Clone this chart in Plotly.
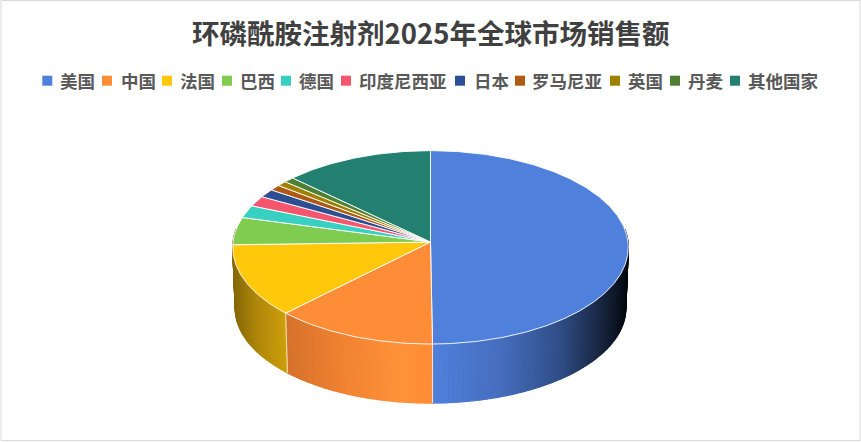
import numpy as np
import plotly.graph_objects as go

TITLE = "环磷酰胺注射剂2025年全球市场销售额"
categories = ["美国", "中国", "法国", "巴西", "德国", "印度尼西亚", "日本", "罗马尼亚", "英国", "丹麦", "其他国家"]
share = [49.85, 12.6, 12.1, 4.6, 2.1, 1.75, 1.4, 0.95, 0.85, 0.9, 12.9]
colors = ["#4F80DC", "#FF8C37", "#FFC80A", "#80CC50", "#38D0C0", "#F4566E",
          "#2C4F94", "#AF5A14", "#A08000", "#4F7F32", "#238070"]

# legend layout (pixels)
legend_marker_x = [47.3, 107, 167, 227, 286, 346, 460, 520, 615, 675, 735]
legend_label_x = [60.3, 120.7, 180, 240, 299.3, 359.3, 474.3, 532.3, 628.3, 687.7, 748.3]

# projection of the pie disc
CX, CY, R, S, K = 430.5, 242.0, 197.5, 96.4, 0.0553
R2, S2, CYB = 195.0, 94.5, 303.0

# wall shading by horizontal position (pixel x, rgb)
wall_stops = {
    0: [(432, (80, 128, 220)), (500, (70, 110, 190)), (560, (48, 78, 135)), (605, (22, 34, 58)), (627, (5, 10, 18))],
    1: [(286, (214, 114, 44)), (340, (240, 130, 50)), (400, (255, 146, 56)), (433, (255, 140, 55))],
    2: [(233, (135, 105, 8)), (255, (175, 135, 10)), (287, (208, 160, 12))],
}


def top(t):
    w = 1 + K * np.cos(t)
    return CX + R * np.sin(t) / w, CY - S * np.cos(t) / w


def bot(t):
    w = 1 + K * np.cos(t)
    return CX + R2 * np.sin(t) / w, CYB - S2 * np.cos(t) / w


def shade(i, x):
    st = wall_stops[i]
    xs = [p[0] for p in st]
    r, g, b = [np.interp(x, xs, [p[1][j] for p in st]) for j in range(3)]
    return f"rgb({r:.0f},{g:.0f},{b:.0f})"


fractions = np.array(share) / np.sum(share)
edges = np.concatenate([[0], np.cumsum(fractions)]) * 2 * np.pi

fig = go.Figure()

# side wall (only the three front slices are visible)
lo, hi = np.radians(82), np.radians(278)
for i in sorted(wall_stops):
    a = max(edges[i], lo)
    b = hi if i == 2 else edges[i + 1]
    n = max(2, int((b - a) / np.radians(0.7)))
    ts = np.linspace(a, b, n + 1)
    for t1, t2 in zip(ts[:-1], ts[1:]):
        x1, y1 = top(t1)
        x2, y2 = top(t2)
        x3, y3 = bot(t2)
        x4, y4 = bot(t1)
        col = shade(i, (x1 + x2) / 2)
        fig.add_trace(go.Scatter(x=[x1, x2, x3, x4, x1], y=[y1, y2, y3, y4, y1], mode="lines",
                                 fill="toself", fillcolor=col, line=dict(color=col, width=1.2),
                                 hoverinfo="skip", showlegend=False))
    # slice boundary on the wall
    if i > 0:
        x1, y1 = top(edges[i])
        x2, y2 = bot(edges[i])
        fig.add_trace(go.Scatter(x=[x1, x2], y=[y1, y2], mode="lines",
                                 line=dict(color="rgba(255,255,255,0.75)", width=1),
                                 hoverinfo="skip", showlegend=False))

# top face
for i, cat in enumerate(categories):
    ts = np.linspace(edges[i], edges[i + 1], max(3, int((edges[i + 1] - edges[i]) / 0.01)))
    x, y = top(ts)
    fig.add_trace(go.Scatter(x=np.r_[CX, x, CX], y=np.r_[CY, y, CY], mode="lines", fill="toself",
                             fillcolor=colors[i], line=dict(color="rgba(255,255,255,0.9)", width=1),
                             name=cat, hovertemplate=f"{cat}: {share[i]}%<extra></extra>", showlegend=False))

# legend swatches
fig.add_trace(go.Scatter(x=legend_marker_x, y=[80.7] * len(categories), mode="markers",
                         marker=dict(symbol="square", size=10, color=colors, line=dict(width=0)),
                         hoverinfo="skip", showlegend=False))

FONT = "Noto Sans CJK SC"
annotations = [dict(x=430.5, y=31.5, text=f"<b>{TITLE}</b>", showarrow=False, xanchor="center", yanchor="middle",
                    font=dict(family=FONT, size=27.5, color="#404040"))]
for lx, cat in zip(legend_label_x, categories):
    annotations.append(dict(x=lx, y=80.7, text=f"<b>{cat}</b>", showarrow=False, xanchor="left", yanchor="middle",
                            xshift=-2, font=dict(family=FONT, size=17.5, color="#595959")))

fig.update_layout(
    width=861, height=442, margin=dict(l=0, r=0, t=0, b=0),
    paper_bgcolor="white", plot_bgcolor="white", showlegend=False,
    xaxis=dict(range=[0, 861], visible=False, fixedrange=True),
    yaxis=dict(range=[442, 0], visible=False, fixedrange=True),
    annotations=annotations,
    shapes=[dict(type="rect", x0=1, y0=0.5, x1=860, y1=440.5, line=dict(color="#D9D9D9", width=1),
                 fillcolor="rgba(0,0,0,0)", layer="below")],
)

fig.write_html("out.html", config={"displayModeBar": False},
               post_script="document.body.style.margin='0';document.body.style.overflow='hidden';")
